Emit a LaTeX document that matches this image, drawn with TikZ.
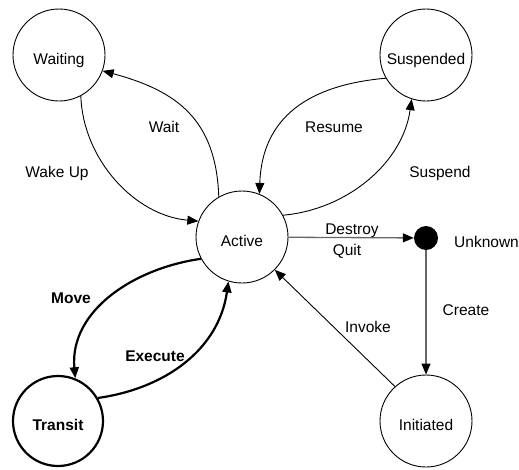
\documentclass[tikz,border=0pt]{standalone}
\usepackage{fontspec}
\setmainfont{Liberation Sans}
\usetikzlibrary{arrows.meta}
\tikzset{
  statenode/.style={circle, draw, line width=0.9pt, minimum size=92pt, inner sep=0pt,
    font=\fontsize{15.5}{18}\selectfont, text height=18pt, text depth=0pt},
  boldstate/.style={statenode, line width=2.2pt, minimum size=90pt, font=\fontsize{15.5}{18}\selectfont\bfseries},
  dotnode/.style={circle, fill=black, minimum size=24pt, inner sep=0pt},
  lbl/.style={font=\fontsize{15.5}{18}\selectfont, inner sep=0pt},
  boldlbl/.style={lbl, font=\fontsize{15.5}{18}\selectfont\bfseries},
  arr/.style={line width=0.9pt, -{Triangle[length=11pt,width=9pt]}},
  thickarr/.style={line width=2.2pt, -{Triangle[length=11pt,width=9pt]}},
  grayarr/.style={line width=1.3pt, draw=black!60, -{Triangle[length=11pt,width=9pt,color=black]}}
}
\begin{document}
\begin{tikzpicture}[x=1pt,y=1pt]
\useasboundingbox (0,0) rectangle (519,-469);
\node[statenode] (waiting) at (59,-55) {Waiting};
\node[statenode] (suspended) at (426,-55) {Suspended};
\node[statenode] (active) at (242,-237) {Active};
\node[dotnode] (dot) at (426,-238) {};
\node[statenode] (initiated) at (426,-421) {Initiated};
\node[boldstate] (transit) at (58,-421) {Transit};

\draw[arr] (active.120) to[out=92,in=-15,looseness=1.15] (waiting.-20);
\draw[arr] (waiting.-62) to[out=-88,in=175,looseness=0.95] (active.160);
\draw[arr] (suspended.-150) to[out=185,in=88,looseness=1.15] (active.68);
\draw[arr] (active.28) to[out=5,in=-98,looseness=0.95] (suspended.-108);
\draw[grayarr] (active) -- (dot);
\draw[grayarr] (dot) -- (initiated);
\draw[arr] (initiated.132) -- (active.-45);
\draw[thickarr] (active.-152) to[out=188,in=95] (transit.68);
\draw[thickarr] (transit.30) to[out=8,in=-98] (active.-107);

\node[lbl] (lwait) at (164,-127) {Wait};
\node[lbl] (lwake) at (57,-173) {Wake Up};
\node[lbl] (lresume) at (334,-127) {Resume};
\node[lbl] (lsuspend) at (440,-173) {Suspend};
\node[lbl] (ldestroy) at (352,-231) {Destroy};
\node[lbl] (lquit) at (347,-251) {Quit};
\node[lbl, anchor=west] (lunknown) at (454,-242) {Unknown};
\node[lbl] (lcreate) at (466,-310) {Create};
\node[lbl] (linvoke) at (368,-327) {Invoke};
\node[boldlbl] (lmove) at (71,-298) {Move};
\node[boldlbl] (lexecute) at (155,-356) {Execute};
\end{tikzpicture}
\end{document}
